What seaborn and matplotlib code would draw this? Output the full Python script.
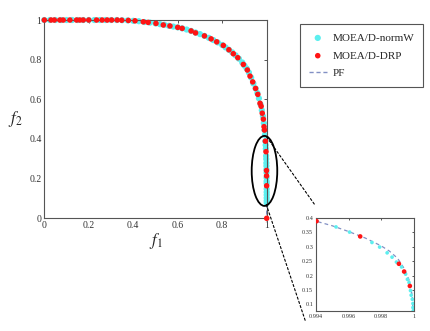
import matplotlib
matplotlib.use("Agg")
import matplotlib.pyplot as plt
from matplotlib.patches import Ellipse, ConnectionPatch
from matplotlib.ticker import FuncFormatter
import seaborn as sns

# MOEA/D-DRP solutions
drp_f1 = [0, 0.03, 0.045, 0.07, 0.085, 0.115, 0.145, 0.16, 0.175, 0.20, 0.235, 0.26, 0.283,
          0.303, 0.328, 0.348, 0.378, 0.408, 0.445, 0.467, 0.502, 0.535, 0.565, 0.60, 0.62,
          0.66, 0.68, 0.72, 0.75, 0.775, 0.805, 0.83, 0.85, 0.87, 0.895, 0.913, 0.925, 0.937,
          0.95, 0.96, 0.97, 0.975, 0.98, 0.985, 0.988, 0.99, 0.99404, 0.99671, 0.99908,
          0.9994, 0.99975, 1.0]
drp_f2 = [1, 1, 1, 1, 1, 1, 1, 1, 1, 1, 1, 1, 1,
          1, 1, 0.999, 0.998, 0.996, 0.991, 0.988, 0.983, 0.975, 0.97, 0.963, 0.958,
          0.945, 0.935, 0.92, 0.905, 0.89, 0.872, 0.85, 0.83, 0.81, 0.776, 0.748, 0.717, 0.688,
          0.655, 0.625, 0.58, 0.565, 0.53, 0.50, 0.462, 0.445, 0.389, 0.336, 0.241,
          0.214, 0.164, 0.0]

# MOEA/D-normW solutions
normw_f1 = [0.0, 0.025, 0.05, 0.075, 0.10, 0.125, 0.15, 0.175, 0.20, 0.225, 0.25, 0.275, 0.30,
            0.325, 0.35, 0.375, 0.40, 0.425, 0.45, 0.475, 0.50, 0.52, 0.54, 0.56, 0.58, 0.60,
            0.62, 0.64, 0.66, 0.68, 0.70, 0.72, 0.74, 0.76, 0.78, 0.80, 0.815, 0.83, 0.845,
            0.86, 0.875, 0.89, 0.90, 0.91, 0.92, 0.93, 0.94, 0.95, 0.958, 0.965, 0.972, 0.978,
            0.983, 0.987, 0.990, 0.992, 0.99404, 0.99523, 0.99606, 0.99743, 0.9979, 0.99836,
            0.99866, 0.99893, 0.99924, 0.99949, 0.9996, 0.9997, 0.99979, 0.99983, 0.9999,
            0.99994, 0.99994, 0.99996]
normw_f2 = [1, 1, 1, 1, 1, 1, 1, 1, 1, 1, 1, 1, 1,
            1, 0.999, 0.998, 0.996, 0.994, 0.99, 0.987, 0.983, 0.979, 0.976, 0.971, 0.967, 0.963,
            0.958, 0.952, 0.945, 0.937, 0.929, 0.92, 0.91, 0.899, 0.887, 0.874, 0.862, 0.85, 0.837,
            0.822, 0.805, 0.786, 0.77, 0.755, 0.735, 0.71, 0.68, 0.655, 0.632, 0.605, 0.575, 0.545,
            0.515, 0.48, 0.445, 0.42, 0.389, 0.369, 0.351, 0.315, 0.299, 0.279,
            0.264, 0.247, 0.230, 0.205, 0.187, 0.176, 0.148, 0.132, 0.118,
            0.103, 0.089, 0.078]

# true Pareto front
pf_f1 = [0, 0.1, 0.2, 0.3, 0.4, 0.5, 0.6, 0.7, 0.75, 0.8, 0.85, 0.9, 0.93, 0.95, 0.97, 0.98,
         0.99, 0.994, 0.995, 0.996, 0.997, 0.998, 0.9985, 0.999, 0.9994, 0.9997, 0.9999, 1.0]
pf_f2 = [1, 1, 1, 1, 0.996, 0.983, 0.963, 0.929, 0.905, 0.877, 0.83, 0.77, 0.71, 0.655, 0.58, 0.53,
         0.445, 0.389, 0.373, 0.353, 0.331, 0.303, 0.285, 0.26, 0.225, 0.185, 0.13, 0.0]

main_ticks = [0, 0.2, 0.4, 0.6, 0.8, 1]
inset_xticks = [0.994, 0.996, 0.998, 1]
inset_yticks = [0.1, 0.15, 0.2, 0.25, 0.3, 0.35, 0.4]

CYAN = '#5cefef'
RED = '#ff1414'
PF_COLOR = '#8290c4'
SPINE = '#555555'

sns.set_theme(style="white")
plt.rcParams['font.family'] = ['Liberation Serif', 'DejaVu Serif']
plt.rcParams['mathtext.fontset'] = 'stix'

fmt = FuncFormatter(lambda v, p: f'{v:g}')


def style_axes(ax, fs):
    for s in ax.spines.values():
        s.set_color(SPINE)
        s.set_linewidth(0.8)
    ax.tick_params(direction='in', length=2.5, width=0.7, color=SPINE, labelsize=fs,
                   labelcolor='#333333', top=True, right=True, pad=2)
    ax.xaxis.set_major_formatter(fmt)
    ax.yaxis.set_major_formatter(fmt)


fig = plt.figure(figsize=(4.31, 3.31), dpi=100)
ax = fig.add_axes([0.1028, 0.3405, 0.516, 0.599])

sns.lineplot(x=pf_f1, y=pf_f2, ax=ax, color=PF_COLOR, lw=1.0, linestyle=(0, (3, 2)),
             sort=False, label='PF', zorder=1)
sns.scatterplot(x=normw_f1, y=normw_f2, ax=ax, color=CYAN, s=20, edgecolor='none',
                label='MOEA/D-normW', zorder=2)
sns.scatterplot(x=drp_f1, y=drp_f2, ax=ax, color=RED, s=16, edgecolor='none',
                label='MOEA/D-DRP', zorder=3)
ax.set_xlim(0, 1)
ax.set_ylim(0, 1)
ax.set_xticks(main_ticks)
ax.set_yticks(main_ticks)
style_axes(ax, 7)
for c in ax.collections:
    c.set_clip_on(False)
ax.set_xlabel('$f_1$', fontsize=12, labelpad=1)
ax.set_ylabel('$f_2$', fontsize=12, rotation=0, labelpad=10, va='center')

handles, labels = ax.get_legend_handles_labels()
order = [labels.index(n) for n in ['MOEA/D-normW', 'MOEA/D-DRP', 'PF']]
ax.get_legend().remove()
leg = fig.legend([handles[i] for i in order], [labels[i] for i in order],
                 loc='upper left', bbox_to_anchor=(0.696, 0.927), fontsize=8,
                 frameon=True, fancybox=False, edgecolor=SPINE, framealpha=1,
                 handlelength=1.6, labelspacing=0.72, borderpad=0.8, handletextpad=0.55,
                 borderaxespad=0)
leg.get_frame().set_linewidth(0.8)

ell = Ellipse((0.99, 0.239), 0.115, 0.353, fill=False, edgecolor='black', lw=1.3,
              clip_on=False, zorder=5)
ax.add_patch(ell)

# zoomed inset
axin = fig.add_axes([0.733, 0.0604, 0.2274, 0.281])
sns.lineplot(x=pf_f1, y=pf_f2, ax=axin, color=PF_COLOR, lw=0.9, linestyle=(0, (3, 2.5)),
             sort=False, legend=False, zorder=1)
sns.scatterplot(x=normw_f1, y=normw_f2, ax=axin, color=CYAN, s=7, edgecolor='none',
                legend=False, zorder=2)
sns.scatterplot(x=drp_f1, y=drp_f2, ax=axin, color=RED, s=11, edgecolor='none',
                legend=False, zorder=3)
axin.set_xlim(0.994, 1.0)
axin.set_ylim(0.077, 0.4)
axin.set_xticks(inset_xticks)
axin.set_yticks(inset_yticks)
style_axes(axin, 4.5)
axin.tick_params(length=1.5)
axin.set_xlabel('')
axin.set_ylabel('')

for pa, pb in [((1.0, 0.41), (-0.01, 1.14)), ((0.998, 0.07), (-0.11, -0.10))]:
    con = ConnectionPatch(xyA=pa, coordsA=ax.transData, xyB=pb, coordsB=axin.transAxes,
                          color='black', lw=0.8, linestyle=(0, (2, 2)), zorder=6)
    fig.add_artist(con)

fig.savefig('out.png', dpi=100)
